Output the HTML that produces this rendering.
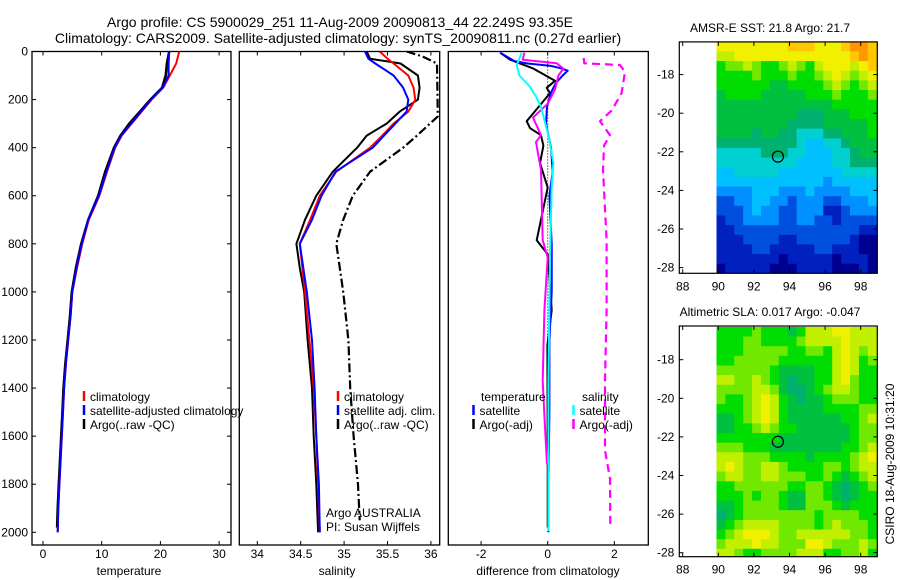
<!DOCTYPE html>
<html><head><meta charset="utf-8"><style>
html,body{margin:0;padding:0;background:#fff;}
svg{display:block;font-family:"Liberation Sans",Arial,sans-serif;}
</style></head><body>
<svg id="fig" width="900" height="580" viewBox="0 0 900 580" xmlns="http://www.w3.org/2000/svg">
<text x="340" y="27" font-size="14" text-anchor="middle">Argo profile: CS 5900029_251 11-Aug-2009 20090813_44 22.249S 93.35E</text>
<text x="338" y="43" font-size="14" text-anchor="middle">Climatology: CARS2009. Satellite-adjusted climatology: synTS_20090811.nc (0.27d earlier)</text>
<text x="770" y="32" font-size="12" text-anchor="middle">AMSR-E SST: 21.8 Argo: 21.7</text>
<text x="770" y="316" font-size="12" text-anchor="middle">Altimetric SLA: 0.017 Argo: -0.047</text>
<text x="894" y="464" font-size="12" text-anchor="middle" transform="rotate(-90 894 464)">CSIRO 18-Aug-2009 10:31:20</text>
</svg>
<script>
// ---------- data ----------
const depthsT = [0,50,100,150,200,250,300,350,400,500,600,700,800,900,1000,1100,1200,1300,1400,1500,1600,1700,1800,1900,2000];
const tempClim = [23.2,22.7,21.6,20.5,18.5,16.8,15.1,13.4,12.3,10.9,9.6,7.8,6.7,5.8,5.0,4.7,4.3,3.9,3.6,3.4,3.2,3.0,2.8,2.6,2.5];
const tempSat  = [21.5,21.4,21.4,20.4,18.4,16.7,15.0,13.3,12.2,10.8,9.5,7.7,6.6,5.7,5.0,4.7,4.3,3.9,3.6,3.4,3.2,3.0,2.8,2.6,2.5];
const tempArgo = [21.5,21.1,20.9,20.3,18.3,16.5,14.7,13.2,12.1,10.6,9.4,7.7,6.5,5.6,4.9,4.6,4.2,3.8,3.5,3.3,3.1,2.9,2.7,2.5,2.4];

const depthsS = [0,30,50,100,150,200,250,300,350,400,500,600,700,800,900,1000,1200,1400,1600,1800,2000];
const salClim = [35.41,35.5,35.57,35.74,35.8,35.82,35.74,35.57,35.44,35.3,34.91,34.72,34.61,34.49,34.52,34.55,34.6,34.65,34.68,34.7,34.72];
const salSat  = [35.24,35.28,35.36,35.57,35.68,35.74,35.72,35.59,35.46,35.33,34.9,34.74,34.63,34.49,34.53,34.57,34.63,34.66,34.68,34.71,34.72];
const salArgo = [35.26,35.3,35.65,35.85,35.87,35.85,35.64,35.49,35.26,35.15,34.87,34.68,34.55,34.45,34.49,34.54,34.58,34.63,34.65,34.68,34.7];
const depthsRaw = [0,20,50,270,350,400,500,600,700,800,900,1000,1200,1400,1600,1800,1950];
const salRaw = [35.72,35.9,36.07,36.08,35.84,35.68,35.3,35.1,34.99,34.91,34.95,34.99,35.05,35.07,35.11,35.16,35.18];

const dTempSat = [5,40,50,60,70,80,100,130,170,230,300,400,500,600,800,1000,1200,1500,1800,2000];
const vTempSat = [-1.43,-1.0,-0.6,0.1,0.4,0.6,0.45,0.25,0.1,-0.02,-0.05,0.1,0.15,0.05,0.12,0.12,0.05,0.05,0.02,0.02];
const dTempArgo = [5,34,71,122,151,173,224,290,319,348,392,464,566,785,843,1076,1222,1660,1980];
const vTempArgo = [-1.43,-1.13,-0.43,0.22,-0.03,0.07,-0.23,-0.63,-0.53,-0.2,-0.13,-0.23,0,-0.33,0,0.12,-0.01,0,0];
const dSalSat = [5,56,100,144,187,231,348,464,566,858,1368,1995];
const vSalSat = [-0.78,-0.93,-0.85,-0.55,-0.35,-0.2,0.02,0.17,0.12,0.07,0.02,0.02];
const dSalArgo = [5,34,49,71,100,158,217,275,348,377,493,785,858,1076,1368,1514,1718];
const vSalArgo = [-0.7,-0.75,0.27,0.47,0.32,0.22,0,-0.44,-0.2,-0.35,-0.2,-0.15,0,-0.1,-0.15,-0.1,-0.02];
const dSalRaw = [27,49,56,85,173,246,290,348,392,493,785,1076,1368,1660,1776,1980];
const vSalRaw = [1.08,1.1,2.17,2.32,2.22,1.92,1.57,1.87,1.69,1.66,1.77,1.77,1.72,1.72,1.87,1.88];

const depthTicks = [0,200,400,600,800,1000,1200,1400,1600,1800,2000];
const tempTicks = [0,10,20,30];
const salTicks = [34,34.5,35,35.5,36];
const diffTicks = [-2,0,2];
const lonTicks = [88,90,92,94,96,98];
const latTicks = [-18,-20,-22,-24,-26,-28];

const palette = ['#000090','#0020c0','#0050e0','#0090ff','#00c0ff','#00d0d0','#00b070','#00c040','#00dd00','#70e800','#c0f000','#f0f000','#ffc800','#ff9800'];
const sstGrid = [
[11,11,11,11,11,11,11,11,12,12,12,11,11,11,12,13,13,12],
[10,10,11,11,11,11,11,11,11,11,11,11,11,11,11,12,13,12],
[8,9,9,10,9,8,8,9,10,9,8,10,11,11,11,10,11,12],
[8,8,8,8,9,8,8,8,9,8,8,9,10,11,10,9,10,11],
[8,8,8,8,8,8,7,7,8,8,8,8,9,10,9,8,9,10],
[7,8,8,8,8,7,7,7,7,7,8,8,8,9,8,8,8,9],
[7,7,7,7,7,7,7,7,7,7,7,7,7,8,8,8,8,8],
[7,7,7,7,7,7,7,7,7,6,6,6,7,7,7,8,8,8],
[7,7,7,7,7,7,7,7,6,6,6,6,7,7,7,7,7,8],
[7,7,7,7,6,7,7,6,6,5,5,5,6,6,7,7,7,8],
[6,6,6,6,6,6,6,6,6,5,4,4,5,5,6,7,7,7],
[5,5,5,5,5,6,6,6,5,5,4,4,4,5,5,6,7,7],
[5,5,5,5,5,5,5,5,5,4,4,4,4,5,5,6,6,6],
[4,4,5,5,5,5,5,4,4,4,4,4,4,4,5,5,5,5],
[4,4,4,4,4,4,4,4,4,4,4,4,3,4,4,4,4,4],
[3,3,3,3,4,4,4,3,3,3,4,3,3,3,3,4,4,4],
[2,2,3,3,4,4,3,3,2,3,3,3,2,2,3,3,3,4],
[2,2,2,3,4,3,3,2,2,3,3,3,1,1,2,3,3,3],
[1,2,2,3,3,3,3,2,2,3,3,2,2,1,2,2,2,2],
[1,1,2,2,2,2,2,2,2,2,2,2,2,2,2,2,1,1],
[1,1,1,2,2,2,2,1,1,2,2,2,2,2,2,1,0,0],
[1,1,1,1,2,2,1,1,1,1,1,2,2,1,1,1,0,0],
[1,1,1,1,1,1,1,0,1,1,1,1,1,0,1,1,1,0],
[0,1,1,1,1,1,0,0,0,1,1,1,1,0,0,0,1,0]];
const slaGrid = [
[8,8,8,8,9,8,8,8,7,8,10,10,10,11,11,10,10,10],
[8,8,8,9,9,8,8,8,8,9,10,10,10,10,11,10,10,10],
[8,8,8,9,9,9,9,9,8,8,9,9,8,10,11,10,9,10],
[8,8,9,9,9,9,9,8,8,8,8,8,8,10,11,10,8,9],
[9,9,9,9,9,9,8,7,7,7,7,8,8,10,11,10,8,8],
[10,10,9,9,10,9,8,7,6,7,7,8,8,10,11,9,8,8],
[9,9,9,9,10,10,9,7,6,6,7,8,9,10,10,9,8,8],
[9,8,8,9,10,11,10,8,7,6,7,7,8,9,9,9,8,8],
[8,8,8,9,10,11,10,8,7,7,7,7,8,8,8,8,9,9],
[7,7,8,9,10,11,10,8,7,7,7,7,7,7,8,8,9,10],
[7,7,8,8,9,10,9,8,8,7,7,7,7,7,7,8,9,9],
[8,8,8,8,8,8,8,7,7,7,7,7,7,7,7,8,9,9],
[9,9,9,8,8,8,7,7,7,7,7,7,7,7,8,8,9,10],
[10,10,10,9,9,9,8,8,8,8,7,8,8,8,8,9,10,11],
[10,11,10,9,9,10,10,9,8,8,8,8,9,9,8,9,10,10],
[9,10,10,9,9,10,10,9,9,9,8,8,9,8,7,8,9,10],
[8,8,9,9,9,9,9,9,8,8,9,9,8,7,6,7,8,9],
[8,8,8,9,8,9,9,8,7,7,9,9,8,7,6,7,8,8],
[7,7,8,9,9,9,9,8,7,7,9,9,9,8,7,8,8,8],
[6,7,8,9,9,9,9,9,9,9,9,8,9,9,9,9,8,8],
[7,8,9,10,10,10,10,9,9,9,9,8,9,10,9,9,9,8],
[8,9,10,11,11,11,10,9,9,10,10,10,10,10,10,9,9,8],
[9,10,10,10,11,10,10,9,9,9,11,11,10,9,9,9,10,9],
[10,10,9,8,8,9,9,9,9,10,10,10,8,8,9,9,10,8]];
const argoLon = 93.35, argoLat = -22.25;

// ---------- helpers ----------
const NS = 'http://www.w3.org/2000/svg';
const fig = document.getElementById('fig');
function mk(tag, attrs, parent){ const e=document.createElementNS(NS,tag); for(const k in attrs) e.setAttribute(k,attrs[k]); (parent||fig).appendChild(e); return e; }
const PT = 51.5, PB = 545;
const yD = d => PT + d*0.2404;
const xT = t => 43 + t*5.87;
const xS = s => 257.3 + (s-34)*86.8;
const xDf = v => 547.7 + v*33.3;

function panel(x0,x1,name,clipId){
  const g = mk('g',{});
  
  
  const cp = mk('clipPath',{id:clipId});
  mk('rect',{x:x0,y:PT,width:x1-x0,height:PB-PT},cp);
  const r = mk('rect',{x:x0,y:PT,width:x1-x0,height:PB-PT,fill:'none',stroke:'#000','stroke-width':1.3},g);
  
  
  return g;
}
function line(g,xs,ys,fx,color,name,clip,dash,w){
  const pts = xs.map((v,i)=>fx(v).toFixed(1)+','+yD(ys[i]).toFixed(1)).join(' ');
  const p = mk('polyline',{points:pts,fill:'none',stroke:color,'stroke-width':w||2,'stroke-linejoin':'round','clip-path':'url(#'+clip+')'},g);
  if(dash) p.setAttribute('stroke-dasharray',dash);
  
  
}
function xticks(g,ticks,fx,x0,x1,label,lx){
  ticks.forEach(t=>{
    const x=fx(t);
    mk('line',{x1:x,y1:PB,x2:x,y2:PB-4,stroke:'#000'},g);
    mk('line',{x1:x,y1:PT,x2:x,y2:PT+4,stroke:'#000'},g);
    const tx = mk('text',{x:x,y:558,'font-size':12,'text-anchor':'middle'},g);
    tx.textContent = t;
    
    
  });
  const lt = mk('text',{x:lx,y:575,'font-size':12,'text-anchor':'middle'},g);
  lt.textContent = label;
  
  
}
function legend(g,x,y,color,text){
  mk('line',{x1:x,y1:y-6,x2:x,y2:y+4,stroke:color,'stroke-width':2.5},g);
  const t = mk('text',{x:x+6,y:y+4,'font-size':12},g);
  t.textContent = text;
  
  
}

// ---------- panel 1: temperature ----------
const g1 = panel(32,231,'temperature-panel','c1');
depthTicks.forEach(d=>{
  const y=yD(d);
  mk('line',{x1:32,y1:y,x2:36,y2:y,stroke:'#000'},g1);
  mk('line',{x1:231,y1:y,x2:227,y2:y,stroke:'#000'},g1);
  const t = mk('text',{x:28,y:y+4,'font-size':12,'text-anchor':'end'},g1);
  t.textContent = d;
  
  
});
xticks(g1,tempTicks,xT,32,231,'temperature',129);
line(g1,tempArgo,depthsT.map((d,i)=>i==depthsT.length-1?1980:d),xT,'#000','temp-argo-line','c1',null,2.5);
line(g1,tempClim,depthsT,xT,'#f00','temp-climatology-line','c1');
line(g1,tempSat,depthsT,xT,'#00f','temp-satellite-line','c1');
legend(g1,84,397,'#f00','climatology');
legend(g1,84,411,'#00f','satellite-adjusted climatology');
legend(g1,84,425,'#000','Argo(..raw -QC)');

// ---------- panel 2: salinity ----------
const g2 = panel(239.3,439.7,'salinity-panel','c2');
xticks(g2,salTicks,xS,239,440,'salinity',337);
line(g2,salRaw,depthsRaw,xS,'#000','salinity-raw-line','c2','9,3,2,3',2.2);
line(g2,salArgo,depthsS,xS,'#000','salinity-argo-line','c2');
line(g2,salClim,depthsS,xS,'#f00','salinity-climatology-line','c2');
line(g2,salSat,depthsS,xS,'#00f','salinity-satellite-line','c2');
legend(g2,338,397,'#f00','climatology');
legend(g2,338,411,'#00f','satellite adj. clim.');
legend(g2,338,425,'#000','Argo(..raw -QC)');
const a1 = mk('text',{x:326,y:517,'font-size':12},g2); a1.textContent='Argo AUSTRALIA';


const a2 = mk('text',{x:326,y:531,'font-size':12},g2); a2.textContent='PI: Susan Wijffels';



// ---------- panel 3: differences ----------
const g3 = panel(448.3,648.3,'difference-panel','c3');
xticks(g3,diffTicks,xDf,448,648,'difference from climatology',548);
const zl = mk('line',{x1:xDf(0),y1:yD(0),x2:xDf(0),y2:yD(1200),stroke:'#000','stroke-dasharray':'1,2'},g3);


line(g3,vSalRaw,dSalRaw,xDf,'#f0f','sal-raw-diff-line','c3','8,5',2.2);
line(g3,vTempArgo,dTempArgo,xDf,'#000','temp-argo-diff-line','c3');
line(g3,vTempSat,dTempSat,xDf,'#00f','temp-satellite-diff-line','c3');
line(g3,vSalArgo,dSalArgo,xDf,'#f0f','sal-argo-diff-line','c3');
line(g3,vSalSat,dSalSat,xDf,'#0ff','sal-satellite-diff-line','c3');
const lt1 = mk('text',{x:481,y:401,'font-size':12},g3); lt1.textContent='temperature';


const lt2 = mk('text',{x:582,y:401,'font-size':12},g3); lt2.textContent='salinity';


legend(g3,473.5,411,'#00f','satellite');
legend(g3,473.5,425,'#000','Argo(-adj)');
legend(g3,573.5,411,'#0ff','satellite');
legend(g3,573.5,425,'#f0f','Argo(-adj)');

// ---------- maps ----------
function map(grid,top,bot,y18,name){
  const g = mk('g',{});
  
  
  const L=679.3,R=877.3;
  const xL = lon => 718.3 + (lon-90)*17.8;
  const yL = lat => y18 + (-18-lat)*19.3;
  const cid = name+'-clip';
  const cp = mk('clipPath',{id:cid}); mk('rect',{x:L,y:top,width:R-L,height:bot-top},cp);
  const cells = mk('g',{'clip-path':'url(#'+cid+')'},g);
  const lon0=89.9, lat0=-16.3, st=0.5;
  grid.forEach((row,r)=>row.forEach((v,c)=>{
    const x=xL(lon0+c*st), y=yL(lat0-r*st);
    const cell = mk('rect',{x:x.toFixed(1),y:y.toFixed(1),width:(17.8*st+0.6).toFixed(1),height:(19.3*st+0.6).toFixed(1),fill:palette[v]},cells);
    
    
  }));
  const fr = mk('rect',{x:L,y:top,width:R-L,height:bot-top,fill:'none',stroke:'#000','stroke-width':1.2},g);
  
  
  lonTicks.forEach(l=>{
    const x=xL(l);
    mk('line',{x1:x,y1:top,x2:x,y2:top+4,stroke:'#000'},g);
    mk('line',{x1:x,y1:bot,x2:x,y2:bot-4,stroke:'#000'},g);
    const t = mk('text',{x:x,y:bot+17,'font-size':12,'text-anchor':'middle'},g); t.textContent=l;
    
    
  });
  latTicks.forEach(l=>{
    const y=yL(l);
    mk('line',{x1:L,y1:y,x2:L+4,y2:y,stroke:'#000'},g);
    mk('line',{x1:R,y1:y,x2:R-4,y2:y,stroke:'#000'},g);
    const t = mk('text',{x:L-5,y:y+4,'font-size':12,'text-anchor':'end'},g); t.textContent=l;
    
    
  });
  const c = mk('circle',{cx:xL(argoLon),cy:yL(argoLat),r:5.5,fill:'none',stroke:'#000','stroke-width':1.2},g);
  
  
}
map(sstGrid,41.9,273.3,74.6,'sst-map');
map(slaGrid,326,556.7,359.7,'sla-map');
</script>
</body></html>
